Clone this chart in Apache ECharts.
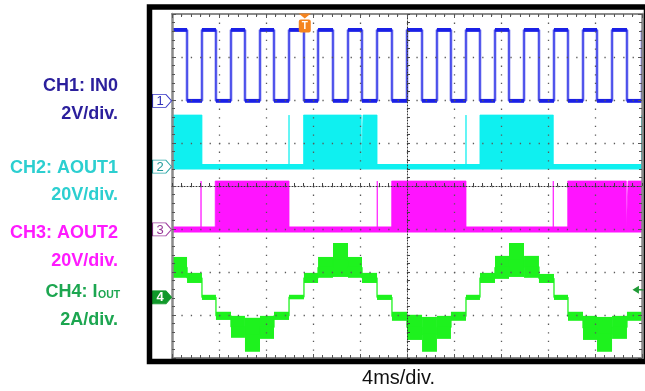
<!DOCTYPE html>
<html><head><meta charset="utf-8">
<script src="https://cdn.jsdelivr.net/npm/echarts@6/dist/echarts.min.js"></script>
<style>html,body{margin:0;padding:0;background:#fff}#c{width:645px;height:391px}</style>
</head><body><div id="c"></div>
<script>
// ---------------- data ----------------
// time base: 4 ms/div, 10 divisions
const timeSpanMs = [0, 40];
const timeDivMs = 4;
// CH1 switching edges (ms); CH4 steps change at the same instants
const timeEdgesMs = [1.28, 2.55, 3.74, 5.02, 6.21, 7.49, 8.68, 9.96, 11.23, 12.43, 13.70, 14.98,
  16.17, 17.45, 18.72, 20.00, 21.28, 22.55, 23.74, 25.02, 26.21, 27.49, 28.68, 29.96,
  31.23, 32.51, 33.70, 34.98, 36.17, 37.45, 38.72, 40.00];
// CH1 level (V) in each interval between edges
const ch1LevelsV = [3.3, 0, 3.3, 0, 3.3, 0, 3.3, 0, 3.3, 0, 3.3, 0, 3.3, 0, 3.3, 0,
  3.3, 0, 3.3, 0, 3.3, 0, 3.3, 0, 3.3, 0, 3.3, 0, 3.3, 0, 3.3, 0];
const ch1EndLevelV = 3.3;
const ch1NoiseV = 0.09;
// CH2 / CH3 PWM bursts [start, end] (ms), isolated spikes (ms), burst amplitude (V)
const ch2BurstsMs = [[0, 2.55], [11.2, 16.1], [16.26, 17.45], [26.21, 32.45]];
const ch2SpikesMs = [9.96, 25.02, 39.96];
const ch2HighV = 24;
const ch3BurstsMs = [[3.68, 9.96], [18.70, 25.02], [33.68, 38.66], [38.82, 40]];
const ch3SpikesMs = [2.47, 17.47, 32.45];
const ch3HighV = 22.5;
// CH4 output current: band (min/max, A) of each interval between edges
const ch4MaxA = [1.88, 1.14, 0.12, -0.67, -0.86, -0.95, -0.86, -0.67, 0.12, 1.14, 1.88, 2.53, 1.88, 1.14, 0.12, -0.67,
  -0.81, -0.91, -0.86, -0.67, 0.12, 1.14, 1.93, 2.53, 1.93, 1.09, 0.12, -0.67, -0.86, -0.91, -0.86, -0.67];
const ch4MinA = [0.91, 0.67, -0.12, -1.05, -1.88, -2.53, -1.93, -1.05, -0.09, 0.67, 0.91, 0.95, 0.91, 0.67, -0.12, -1.09,
  -1.98, -2.53, -1.93, -1.09, -0.12, 0.67, 0.86, 0.95, 0.91, 0.67, -0.12, -1.09, -1.98, -2.53, -1.93, -1.09];
// trigger time (ms) and CH4 level marker (A)
const triggerMs = 11.3;
const levelMarkerA = 0.35;
// channel texts
const channelNames = ['CH1: IN0', 'CH2: AOUT1', 'CH3: AOUT2', 'CH4: I'];
const ch4Subscript = 'OUT';
const channelScales = ['2V/div.', '20V/div.', '20V/div.', '2A/div.'];
const perDiv = [2, 20, 20, 2];
const timeLabel = '4ms/div.';

// ---------------- layout / style ----------------
const groundDiv = [5.98, 4.45, 2.99, 1.41];   // ground position, divisions above bottom
const chColor = ['#1b20e6', '#0ff0f0', '#ff14ff', '#1ef21e'];
const labelColor = ['#2b1f9c', '#2ccfd0', '#ff1aff', '#1ca650'];
const labelY = [[86.5, 114.5], [168, 195], [233.5, 261.5], [292.5, 320.5]];
const FONT = '"Liberation Sans", Arial, sans-serif';

// ---------------- build ----------------
function segments() {
  return timeEdgesMs.map((e, i) => [i ? timeEdgesMs[i - 1] : timeSpanMs[0], e]);
}
function burstTrace(bursts, spikes, high) {
  const ev = bursts.map(b => ({ t: b[0], end: b[1] })).concat(spikes.map(t => ({ t: t, end: null })));
  ev.sort((a, b) => a.t - b.t);
  const pts = [[timeSpanMs[0], 0]];
  ev.forEach(e => {
    if (e.end !== null) pts.push([e.t, 0], [e.t, high], [e.end, high], [e.end, 0]);
    else pts.push([e.t, 0], [e.t, high], [e.t, 0]);
  });
  pts.push([timeSpanMs[1], 0]);
  return pts;
}
const segs = segments();
const ch1Line = [];
segs.forEach((s, i) => { ch1Line.push([s[0], ch1LevelsV[i]], [s[1], ch1LevelsV[i]]); });
ch1Line.push([timeSpanMs[1], ch1EndLevelV]);
const ch1Bands = segs.map((s, i) => [s[0], s[1], ch1LevelsV[i] - ch1NoiseV, ch1LevelsV[i] + ch1NoiseV]);
const ch4Bands = segs.map((s, i) => [s[0], s[1], ch4MinA[i], ch4MaxA[i]]);
const ch4Line = [];
segs.forEach((s, i) => { const c = (ch4MinA[i] + ch4MaxA[i]) / 2; ch4Line.push([s[0], c], [s[1], c]); });
const ch2Trace = burstTrace(ch2BurstsMs, ch2SpikesMs, ch2HighV);
const ch3Trace = burstTrace(ch3BurstsMs, ch3SpikesMs, ch3HighV);

function bandRender(color) {
  return function (params, api) {
    const a = api.coord([api.value(0), api.value(3)]);
    const b = api.coord([api.value(1), api.value(2)]);
    return { type: 'rect', shape: { x: a[0], y: a[1], width: b[0] - a[0], height: Math.max(1, b[1] - a[1]) },
      style: { fill: color } };
  };
}
function borderX(pos, split) {
  return { type: 'value', min: timeSpanMs[0], max: timeSpanMs[1], interval: timeDivMs, position: pos, z: 5,
    axisLine: { show: true, onZero: false, lineStyle: { color: '#8a8a8a', width: 2 } },
    axisTick: { show: true, inside: true, length: 4, lineStyle: { color: '#555' } },
    minorTick: { show: true, splitNumber: 5, length: 3, lineStyle: { color: '#555' } },
    axisLabel: { show: false },
    splitLine: { show: split, lineStyle: { color: '#5a5a5a', width: 1.3, type: [1.3, 7.3] } } };
}
function borderY(pos, split) {
  return { type: 'value', min: -4, max: 4, interval: 1, position: pos, z: 5,
    axisLine: { show: true, onZero: false, lineStyle: { color: '#8a8a8a', width: 2.5 } },
    axisTick: { show: true, inside: true, length: 4, lineStyle: { color: '#555' } },
    minorTick: { show: true, splitNumber: 5, length: 3, lineStyle: { color: '#555' } },
    axisLabel: { show: false },
    splitLine: { show: split, lineStyle: { color: '#5a5a5a', width: 1.3, type: [1.3, 8.1] } } };
}
const centerX = { type: 'value', min: timeSpanMs[0], max: timeSpanMs[1], interval: timeDivMs, position: 'bottom', offset: -172, z: 5,
  axisLine: { show: true, onZero: false, lineStyle: { color: '#333', width: 1, type: [1, 2] } },
  axisTick: { show: true, inside: true, length: 3, lineStyle: { color: '#444' } },
  minorTick: { show: true, splitNumber: 5, length: 3, lineStyle: { color: '#444' } },
  axisLabel: { show: false }, splitLine: { show: false } };
const centerY = { type: 'value', min: -4, max: 4, interval: 1, position: 'left', offset: -235, z: 5,
  axisLine: { show: true, onZero: false, lineStyle: { color: '#333', width: 1, type: [1, 2] } },
  axisTick: { show: true, inside: true, length: 3, lineStyle: { color: '#444' } },
  minorTick: { show: true, splitNumber: 5, length: 3, lineStyle: { color: '#444' } },
  axisLabel: { show: false }, splitLine: { show: false } };
const chAxes = perDiv.map((p, i) => ({ type: 'value', show: false, min: -groundDiv[i] * p, max: (8 - groundDiv[i]) * p }));

const PENT = 'path://M0,0L14,0L20,6.5L14,13L0,13Z';
function groundMarker(i, fill, stroke, text) {
  return { type: 'scatter', xAxisIndex: 0, yAxisIndex: 3 + i, clip: false, z: 10, silent: true,
    data: [[timeSpanMs[0], 0]], symbol: PENT, symbolSize: [19, 13], symbolOffset: [-10, 0],
    itemStyle: { color: fill, borderColor: stroke, borderWidth: 1, opacity: 1 },
    label: { show: true, position: 'inside', offset: [-2, 0.5], formatter: String(i + 1), color: text,
      fontSize: 13, fontWeight: i === 3 ? 'bold' : 'normal', fontFamily: FONT } };
}
function lineSeries(data, axis, color, width, extra) {
  return Object.assign({ type: 'line', xAxisIndex: 0, yAxisIndex: axis, data: data, showSymbol: false, symbol: 'none',
    silent: true, lineStyle: { color: color, width: width }, z: 2 }, extra || {});
}

const series = [
  { type: 'custom', xAxisIndex: 0, yAxisIndex: 6, data: ch4Bands, renderItem: bandRender(chColor[3]),
    encode: { x: [0, 1], y: [2, 3] }, clip: true, silent: true, z: 2 },
  lineSeries(ch4Line, 6, chColor[3], 1.3),
  lineSeries([[timeSpanMs[0], 0], [timeSpanMs[1], 0]], 5, chColor[2], 6),
  lineSeries(ch3Trace, 5, chColor[2], 0.8, { areaStyle: { color: chColor[2], opacity: 1, origin: 'auto' } }),
  lineSeries([[timeSpanMs[0], 0], [timeSpanMs[1], 0]], 4, chColor[1], 5.5),
  lineSeries(ch2Trace, 4, chColor[1], 0.8, { areaStyle: { color: chColor[1], opacity: 1, origin: 'auto' } }),
  lineSeries(ch1Line, 3, '#a4a6f4', 3),
  { type: 'custom', xAxisIndex: 0, yAxisIndex: 3, data: ch1Bands, renderItem: bandRender(chColor[0]),
    encode: { x: [0, 1], y: [2, 3] }, clip: true, silent: true, z: 3 },
  lineSeries(ch1Line, 3, chColor[0], 1.2, { z: 3 }),
  groundMarker(0, '#fff', '#3a3ac8', '#3030b8'),
  groundMarker(1, '#fff', '#2aa8a8', '#239a9a'),
  groundMarker(2, '#fff', '#a040a0', '#943494'),
  groundMarker(3, '#10982a', '#10982a', '#fff'),
  { type: 'scatter', xAxisIndex: 0, yAxisIndex: 3, clip: false, z: 10, silent: true,
    data: [[triggerMs, chAxes[0].max]],
    symbol: 'path://M0,0L12,0L6,5ZM2,6L10,6Q12,6 12,8L12,17Q12,19 10,19L2,19Q0,19 0,17L0,8Q0,6 2,6Z',
    symbolSize: [12, 19], symbolOffset: [0, 9], itemStyle: { color: '#f5841f', opacity: 1 },
    label: { show: true, position: 'inside', offset: [0, 3.5], formatter: 'T', color: '#fff', fontSize: 10,
      fontWeight: 'bold', fontFamily: FONT } },
  { type: 'scatter', xAxisIndex: 0, yAxisIndex: 6, clip: false, z: 10, silent: true,
    data: [[timeSpanMs[1], levelMarkerA]],
    symbol: 'path://M0,4L7,0L7,8ZM7,3.4L12,3.4L12,4.6L7,4.6Z', symbolSize: [11, 8], symbolOffset: [-4, 0],
    itemStyle: { color: '#1f9a35', opacity: 1 } }
];

const graphic = [
  { type: 'rect', z: 100, silent: true, shape: { x: 149.5, y: 7, width: 497, height: 354.5 },
    style: { fill: 'none', stroke: '#000', lineWidth: 5.5 } },
  { type: 'text', z: 100, x: 398.5, y: 378.5, silent: true,
    style: { text: timeLabel, align: 'center', verticalAlign: 'middle', font: '20px ' + FONT, fill: '#111' } }
];
channelNames.forEach((n, i) => {
  if (i === 3) {
    graphic.push({ type: 'text', z: 100, x: 97.5, y: labelY[i][0], silent: true,
      style: { text: n, align: 'right', verticalAlign: 'middle', font: 'bold 18px ' + FONT, fill: labelColor[i] } });
    graphic.push({ type: 'text', z: 100, x: 98, y: labelY[i][0] + 2.3, silent: true,
      style: { text: ch4Subscript, align: 'left', verticalAlign: 'middle', font: 'bold 10.5px ' + FONT, fill: labelColor[i] } });
  } else {
    graphic.push({ type: 'text', z: 100, x: 118, y: labelY[i][0], silent: true,
      style: { text: n, align: 'right', verticalAlign: 'middle', font: 'bold 18px ' + FONT, fill: labelColor[i] } });
  }
  graphic.push({ type: 'text', z: 100, x: 118, y: labelY[i][1], silent: true,
    style: { text: channelScales[i], align: 'right', verticalAlign: 'middle', font: 'bold 18px ' + FONT, fill: labelColor[i] } });
});

const chart = echarts.init(document.getElementById('c'), null, { renderer: 'canvas' });
chart.setOption({
  animation: false,
  backgroundColor: '#fff',
  grid: { left: 172, top: 14, width: 470, height: 344, show: false },
  xAxis: [borderX('bottom', true), borderX('top', false), centerX],
  yAxis: [borderY('left', true), borderY('right', false), centerY].concat(chAxes),
  series: series,
  graphic: graphic
});
</script></body></html>
